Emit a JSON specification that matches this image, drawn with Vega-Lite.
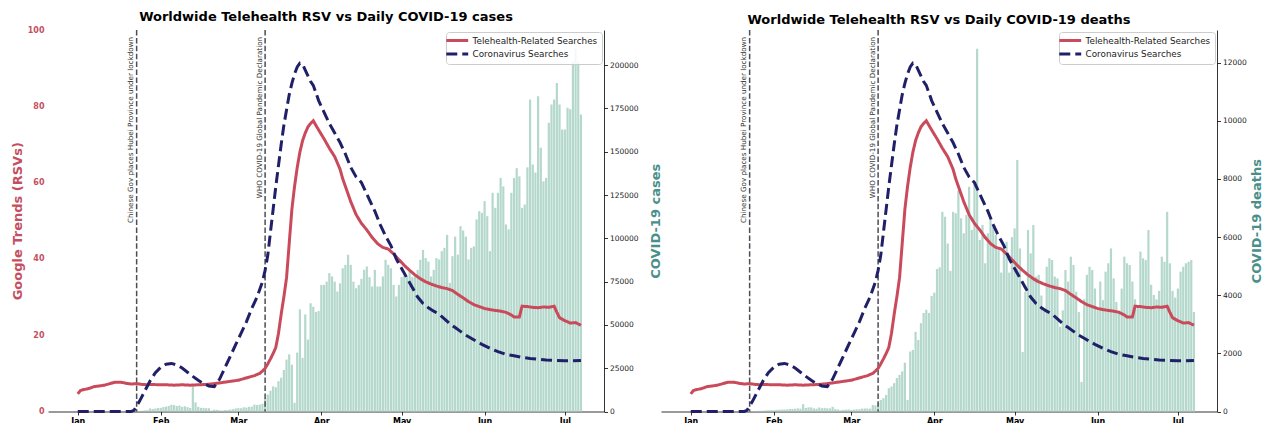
{
  "$schema": "https://vega.github.io/schema/vega-lite/v6.json",
  "padding": {"left": 11, "top": 11, "right": 0, "bottom": 0},
  "bounds": "flush",
  "spacing": 57,
  "config": {
    "font": "DejaVu Sans",
    "view": {"stroke": null},
    "axis": {"grid": false, "labelFont": "DejaVu Sans", "titleFont": "DejaVu Sans"},
    "title": {"font": "DejaVu Sans"}
  },
  "resolve": {
    "scale": {"color": "independent", "strokeDash": "independent"},
    "legend": {"color": "independent", "strokeDash": "independent"}
  },
  "datasets": {
    "daily": [
      {"date":"2020-01-01","cases":0,"deaths":0},{"date":"2020-01-02","cases":0,"deaths":0},{"date":"2020-01-03","cases":0,"deaths":0},{"date":"2020-01-04","cases":0,"deaths":0},{"date":"2020-01-05","cases":0,"deaths":0},{"date":"2020-01-06","cases":0,"deaths":0},{"date":"2020-01-07","cases":0,"deaths":0},{"date":"2020-01-08","cases":0,"deaths":0},{"date":"2020-01-09","cases":0,"deaths":0},{"date":"2020-01-10","cases":0,"deaths":0},
      {"date":"2020-01-11","cases":0,"deaths":1},{"date":"2020-01-12","cases":0,"deaths":0},{"date":"2020-01-13","cases":1,"deaths":0},{"date":"2020-01-14","cases":0,"deaths":0},{"date":"2020-01-15","cases":0,"deaths":0},{"date":"2020-01-16","cases":4,"deaths":0},{"date":"2020-01-17","cases":4,"deaths":1},{"date":"2020-01-18","cases":17,"deaths":0},{"date":"2020-01-19","cases":136,"deaths":1},{"date":"2020-01-20","cases":19,"deaths":0},
      {"date":"2020-01-21","cases":151,"deaths":3},{"date":"2020-01-22","cases":140,"deaths":11},{"date":"2020-01-23","cases":97,"deaths":8},{"date":"2020-01-24","cases":266,"deaths":16},{"date":"2020-01-25","cases":453,"deaths":15},{"date":"2020-01-26","cases":673,"deaths":24},{"date":"2020-01-27","cases":797,"deaths":26},{"date":"2020-01-28","cases":1767,"deaths":26},{"date":"2020-01-29","cases":1481,"deaths":38},{"date":"2020-01-30","cases":1757,"deaths":43},{"date":"2020-01-31","cases":1986,"deaths":46},
      {"date":"2020-02-01","cases":2099,"deaths":45},{"date":"2020-02-02","cases":2604,"deaths":57},{"date":"2020-02-03","cases":2834,"deaths":64},{"date":"2020-02-04","cases":3239,"deaths":66},{"date":"2020-02-05","cases":3892,"deaths":73},{"date":"2020-02-06","cases":3697,"deaths":73},{"date":"2020-02-07","cases":3163,"deaths":86},{"date":"2020-02-08","cases":3429,"deaths":89},{"date":"2020-02-09","cases":2676,"deaths":97},{"date":"2020-02-10","cases":3001,"deaths":108},
      {"date":"2020-02-11","cases":2546,"deaths":97},{"date":"2020-02-12","cases":2033,"deaths":254},{"date":"2020-02-13","cases":14840,"deaths":121},{"date":"2020-02-14","cases":5264,"deaths":143},{"date":"2020-02-15","cases":2653,"deaths":142},{"date":"2020-02-16","cases":2125,"deaths":106},{"date":"2020-02-17","cases":2095,"deaths":98},{"date":"2020-02-18","cases":1916,"deaths":139},{"date":"2020-02-19","cases":1876,"deaths":115},{"date":"2020-02-20","cases":544,"deaths":125},
      {"date":"2020-02-21","cases":1066,"deaths":111},{"date":"2020-02-22","cases":1009,"deaths":107},{"date":"2020-02-23","cases":715,"deaths":161},{"date":"2020-02-24","cases":565,"deaths":84},{"date":"2020-02-25","cases":842,"deaths":72},{"date":"2020-02-26","cases":886,"deaths":44},{"date":"2020-02-27","cases":1140,"deaths":58},{"date":"2020-02-28","cases":1363,"deaths":64},{"date":"2020-02-29","cases":1778,"deaths":70},
      {"date":"2020-03-01","cases":1946,"deaths":55},{"date":"2020-03-02","cases":1897,"deaths":68},{"date":"2020-03-03","cases":2443,"deaths":73},{"date":"2020-03-04","cases":2257,"deaths":79},{"date":"2020-03-05","cases":2690,"deaths":98},{"date":"2020-03-06","cases":2816,"deaths":106},{"date":"2020-03-07","cases":3989,"deaths":104},{"date":"2020-03-08","cases":3700,"deaths":99},{"date":"2020-03-09","cases":4020,"deaths":228},{"date":"2020-03-10","cases":4468,"deaths":210},
      {"date":"2020-03-11","cases":7500,"deaths":290},{"date":"2020-03-12","cases":9800,"deaths":400},{"date":"2020-03-13","cases":12000,"deaths":460},{"date":"2020-03-14","cases":14500,"deaths":570},{"date":"2020-03-15","cases":14000,"deaths":800},{"date":"2020-03-16","cases":17500,"deaths":860},{"date":"2020-03-17","cases":19500,"deaths":975},{"date":"2020-03-18","cases":24000,"deaths":1150},{"date":"2020-03-19","cases":30000,"deaths":1260},{"date":"2020-03-20","cases":33000,"deaths":1380},
      {"date":"2020-03-21","cases":27000,"deaths":1680},{"date":"2020-03-22","cases":5000,"deaths":400},{"date":"2020-03-23","cases":34000,"deaths":2065},{"date":"2020-03-24","cases":59000,"deaths":2120},{"date":"2020-03-25","cases":31000,"deaths":2740},{"date":"2020-03-26","cases":56000,"deaths":2460},{"date":"2020-03-27","cases":41500,"deaths":3040},{"date":"2020-03-28","cases":62500,"deaths":3390},{"date":"2020-03-29","cases":60500,"deaths":3500},{"date":"2020-03-30","cases":57500,"deaths":3390},{"date":"2020-03-31","cases":58000,"deaths":3970},
      {"date":"2020-04-01","cases":73100,"deaths":4090},{"date":"2020-04-02","cases":73100,"deaths":4900},{"date":"2020-04-03","cases":75000,"deaths":4960},{"date":"2020-04-04","cases":79900,"deaths":6870},{"date":"2020-04-05","cases":78000,"deaths":6700},{"date":"2020-04-06","cases":75000,"deaths":5780},{"date":"2020-04-07","cases":69300,"deaths":4840},{"date":"2020-04-08","cases":74000,"deaths":6870},{"date":"2020-04-09","cases":82700,"deaths":6820},{"date":"2020-04-10","cases":84700,"deaths":7600},
      {"date":"2020-04-11","cases":90500,"deaths":6645},{"date":"2020-04-12","cases":84700,"deaths":6130},{"date":"2020-04-13","cases":75000,"deaths":6760},{"date":"2020-04-14","cases":71200,"deaths":7730},{"date":"2020-04-15","cases":73100,"deaths":6245},{"date":"2020-04-16","cases":76600,"deaths":7840},{"date":"2020-04-17","cases":81800,"deaths":12480},{"date":"2020-04-18","cases":83700,"deaths":5900},{"date":"2020-04-19","cases":77600,"deaths":6420},{"date":"2020-04-20","cases":72200,"deaths":5100},
      {"date":"2020-04-21","cases":81800,"deaths":6130},{"date":"2020-04-22","cases":72200,"deaths":6590},{"date":"2020-04-23","cases":72200,"deaths":6360},{"date":"2020-04-24","cases":78000,"deaths":6070},{"date":"2020-04-25","cases":87600,"deaths":5550},{"date":"2020-04-26","cases":84700,"deaths":4780},{"date":"2020-04-27","cases":82700,"deaths":5670},{"date":"2020-04-28","cases":73100,"deaths":5840},{"date":"2020-04-29","cases":66400,"deaths":4780},{"date":"2020-04-30","cases":73100,"deaths":6000},
      {"date":"2020-05-01","cases":77600,"deaths":6300},{"date":"2020-05-02","cases":78500,"deaths":8650},{"date":"2020-05-03","cases":78000,"deaths":5610},{"date":"2020-05-04","cases":81800,"deaths":2050},{"date":"2020-05-05","cases":77600,"deaths":4120},{"date":"2020-05-06","cases":78500,"deaths":6240},{"date":"2020-05-07","cases":81800,"deaths":5440},{"date":"2020-05-08","cases":87600,"deaths":6415},{"date":"2020-05-09","cases":93300,"deaths":4640},{"date":"2020-05-10","cases":88600,"deaths":4700},
      {"date":"2020-05-11","cases":86600,"deaths":3990},{"date":"2020-05-12","cases":78000,"deaths":3480},{"date":"2020-05-13","cases":81800,"deaths":4980},{"date":"2020-05-14","cases":88600,"deaths":5270},{"date":"2020-05-15","cases":87800,"deaths":5210},{"date":"2020-05-16","cases":92600,"deaths":4640},{"date":"2020-05-17","cases":94500,"deaths":4580},{"date":"2020-05-18","cases":102000,"deaths":2915},{"date":"2020-05-19","cases":74300,"deaths":3480},{"date":"2020-05-20","cases":89700,"deaths":4870},
      {"date":"2020-05-21","cases":101000,"deaths":4470},{"date":"2020-05-22","cases":90600,"deaths":5325},{"date":"2020-05-23","cases":107000,"deaths":5040},{"date":"2020-05-24","cases":104500,"deaths":4120},{"date":"2020-05-25","cases":101000,"deaths":3420},{"date":"2020-05-26","cases":87800,"deaths":1020},{"date":"2020-05-27","cases":94500,"deaths":3860},{"date":"2020-05-28","cases":95400,"deaths":4700},{"date":"2020-05-29","cases":110900,"deaths":4980},{"date":"2020-05-30","cases":115700,"deaths":4870},{"date":"2020-05-31","cases":114700,"deaths":4230},
      {"date":"2020-06-01","cases":121500,"deaths":3480},{"date":"2020-06-02","cases":112800,"deaths":4470},{"date":"2020-06-03","cases":92600,"deaths":3830},{"date":"2020-06-04","cases":126300,"deaths":4810},{"date":"2020-06-05","cases":117600,"deaths":5100},{"date":"2020-06-06","cases":126300,"deaths":5610},{"date":"2020-06-07","cases":134900,"deaths":4580},{"date":"2020-06-08","cases":130000,"deaths":3770},{"date":"2020-06-09","cases":108000,"deaths":3480},{"date":"2020-06-10","cases":105200,"deaths":4230},
      {"date":"2020-06-11","cases":126300,"deaths":5325},{"date":"2020-06-12","cases":134900,"deaths":5100},{"date":"2020-06-13","cases":140500,"deaths":5040},{"date":"2020-06-14","cases":135800,"deaths":4470},{"date":"2020-06-15","cases":117600,"deaths":3860},{"date":"2020-06-16","cases":119500,"deaths":3600},{"date":"2020-06-17","cases":141000,"deaths":5500},{"date":"2020-06-18","cases":180100,"deaths":5270},{"date":"2020-06-19","cases":142600,"deaths":5210},{"date":"2020-06-20","cases":138000,"deaths":6240},
      {"date":"2020-06-21","cases":182000,"deaths":4360},{"date":"2020-06-22","cases":152300,"deaths":4010},{"date":"2020-06-23","cases":132900,"deaths":3860},{"date":"2020-06-24","cases":134900,"deaths":4150},{"date":"2020-06-25","cases":166700,"deaths":5325},{"date":"2020-06-26","cases":177300,"deaths":5150},{"date":"2020-06-27","cases":180100,"deaths":6870},{"date":"2020-06-28","cases":189700,"deaths":5100},{"date":"2020-06-29","cases":177300,"deaths":4150},{"date":"2020-06-30","cases":162800,"deaths":3920},
      {"date":"2020-07-01","cases":162800,"deaths":4230},{"date":"2020-07-02","cases":175400,"deaths":4810},{"date":"2020-07-03","cases":174500,"deaths":4980},{"date":"2020-07-04","cases":202300,"deaths":5100},{"date":"2020-07-05","cases":209800,"deaths":5150},{"date":"2020-07-06","cases":202000,"deaths":5210},{"date":"2020-07-07","cases":171500,"deaths":3420}
    ],
    "trends": [
      {"date":"2020-01-01","series":"Telehealth-Related Searches","value":4.6},{"date":"2020-01-02","series":"Telehealth-Related Searches","value":5.5},{"date":"2020-01-03","series":"Telehealth-Related Searches","value":5.7},{"date":"2020-01-05","series":"Telehealth-Related Searches","value":6.0},{"date":"2020-01-07","series":"Telehealth-Related Searches","value":6.5},{"date":"2020-01-09","series":"Telehealth-Related Searches","value":6.7},{"date":"2020-01-11","series":"Telehealth-Related Searches","value":6.9},{"date":"2020-01-13","series":"Telehealth-Related Searches","value":7.3},{"date":"2020-01-15","series":"Telehealth-Related Searches","value":7.7},{"date":"2020-01-17","series":"Telehealth-Related Searches","value":7.7},{"date":"2020-01-19","series":"Telehealth-Related Searches","value":7.4},{"date":"2020-01-21","series":"Telehealth-Related Searches","value":7.2},{"date":"2020-01-23","series":"Telehealth-Related Searches","value":7.3},{"date":"2020-01-25","series":"Telehealth-Related Searches","value":7.1},{"date":"2020-01-27","series":"Telehealth-Related Searches","value":7.0},{"date":"2020-01-29","series":"Telehealth-Related Searches","value":7.1},{"date":"2020-01-31","series":"Telehealth-Related Searches","value":7.0},
      {"date":"2020-02-03","series":"Telehealth-Related Searches","value":7.0},{"date":"2020-02-06","series":"Telehealth-Related Searches","value":6.9},{"date":"2020-02-09","series":"Telehealth-Related Searches","value":7.0},{"date":"2020-02-12","series":"Telehealth-Related Searches","value":6.9},{"date":"2020-02-15","series":"Telehealth-Related Searches","value":7.0},{"date":"2020-02-18","series":"Telehealth-Related Searches","value":7.1},{"date":"2020-02-21","series":"Telehealth-Related Searches","value":7.3},{"date":"2020-02-24","series":"Telehealth-Related Searches","value":7.6},{"date":"2020-02-27","series":"Telehealth-Related Searches","value":7.9},
      {"date":"2020-03-01","series":"Telehealth-Related Searches","value":8.2},{"date":"2020-03-03","series":"Telehealth-Related Searches","value":8.6},{"date":"2020-03-05","series":"Telehealth-Related Searches","value":9.0},{"date":"2020-03-07","series":"Telehealth-Related Searches","value":9.4},{"date":"2020-03-09","series":"Telehealth-Related Searches","value":10.0},{"date":"2020-03-10","series":"Telehealth-Related Searches","value":10.6},{"date":"2020-03-11","series":"Telehealth-Related Searches","value":11.3},{"date":"2020-03-12","series":"Telehealth-Related Searches","value":12.5},{"date":"2020-03-13","series":"Telehealth-Related Searches","value":13.8},{"date":"2020-03-14","series":"Telehealth-Related Searches","value":15.2},{"date":"2020-03-15","series":"Telehealth-Related Searches","value":16.8},{"date":"2020-03-16","series":"Telehealth-Related Searches","value":20.5},{"date":"2020-03-17","series":"Telehealth-Related Searches","value":25.5},{"date":"2020-03-18","series":"Telehealth-Related Searches","value":30},{"date":"2020-03-19","series":"Telehealth-Related Searches","value":35},{"date":"2020-03-20","series":"Telehealth-Related Searches","value":44},{"date":"2020-03-21","series":"Telehealth-Related Searches","value":53},{"date":"2020-03-22","series":"Telehealth-Related Searches","value":59},{"date":"2020-03-23","series":"Telehealth-Related Searches","value":64},{"date":"2020-03-24","series":"Telehealth-Related Searches","value":68},{"date":"2020-03-25","series":"Telehealth-Related Searches","value":71},{"date":"2020-03-26","series":"Telehealth-Related Searches","value":73},{"date":"2020-03-27","series":"Telehealth-Related Searches","value":74.6},{"date":"2020-03-28","series":"Telehealth-Related Searches","value":75.5},{"date":"2020-03-29","series":"Telehealth-Related Searches","value":76.2},{"date":"2020-03-30","series":"Telehealth-Related Searches","value":75.0},{"date":"2020-03-31","series":"Telehealth-Related Searches","value":73.8},
      {"date":"2020-04-02","series":"Telehealth-Related Searches","value":71.5},{"date":"2020-04-04","series":"Telehealth-Related Searches","value":69.0},{"date":"2020-04-06","series":"Telehealth-Related Searches","value":66.8},{"date":"2020-04-08","series":"Telehealth-Related Searches","value":63.5},{"date":"2020-04-09","series":"Telehealth-Related Searches","value":61.0},{"date":"2020-04-10","series":"Telehealth-Related Searches","value":59.0},{"date":"2020-04-12","series":"Telehealth-Related Searches","value":55.0},{"date":"2020-04-14","series":"Telehealth-Related Searches","value":51.6},{"date":"2020-04-16","series":"Telehealth-Related Searches","value":49.3},{"date":"2020-04-18","series":"Telehealth-Related Searches","value":47.6},{"date":"2020-04-20","series":"Telehealth-Related Searches","value":45.6},{"date":"2020-04-22","series":"Telehealth-Related Searches","value":44.0},{"date":"2020-04-24","series":"Telehealth-Related Searches","value":43.0},{"date":"2020-04-26","series":"Telehealth-Related Searches","value":42.6},{"date":"2020-04-28","series":"Telehealth-Related Searches","value":41.3},{"date":"2020-04-30","series":"Telehealth-Related Searches","value":39.8},
      {"date":"2020-05-02","series":"Telehealth-Related Searches","value":38.3},{"date":"2020-05-04","series":"Telehealth-Related Searches","value":37.0},{"date":"2020-05-06","series":"Telehealth-Related Searches","value":35.8},{"date":"2020-05-08","series":"Telehealth-Related Searches","value":34.8},{"date":"2020-05-10","series":"Telehealth-Related Searches","value":34.0},{"date":"2020-05-12","series":"Telehealth-Related Searches","value":33.4},{"date":"2020-05-14","series":"Telehealth-Related Searches","value":32.9},{"date":"2020-05-16","series":"Telehealth-Related Searches","value":32.5},{"date":"2020-05-18","series":"Telehealth-Related Searches","value":32.2},{"date":"2020-05-20","series":"Telehealth-Related Searches","value":31.7},{"date":"2020-05-22","series":"Telehealth-Related Searches","value":30.7},{"date":"2020-05-24","series":"Telehealth-Related Searches","value":29.8},{"date":"2020-05-26","series":"Telehealth-Related Searches","value":28.8},{"date":"2020-05-28","series":"Telehealth-Related Searches","value":28.0},{"date":"2020-05-30","series":"Telehealth-Related Searches","value":27.5},
      {"date":"2020-06-01","series":"Telehealth-Related Searches","value":27.0},{"date":"2020-06-03","series":"Telehealth-Related Searches","value":26.7},{"date":"2020-06-05","series":"Telehealth-Related Searches","value":26.5},{"date":"2020-06-07","series":"Telehealth-Related Searches","value":26.3},{"date":"2020-06-09","series":"Telehealth-Related Searches","value":26.0},{"date":"2020-06-11","series":"Telehealth-Related Searches","value":25.3},{"date":"2020-06-12","series":"Telehealth-Related Searches","value":24.8},{"date":"2020-06-14","series":"Telehealth-Related Searches","value":24.8},{"date":"2020-06-15","series":"Telehealth-Related Searches","value":27.6},{"date":"2020-06-17","series":"Telehealth-Related Searches","value":27.5},{"date":"2020-06-19","series":"Telehealth-Related Searches","value":27.3},{"date":"2020-06-21","series":"Telehealth-Related Searches","value":27.2},{"date":"2020-06-23","series":"Telehealth-Related Searches","value":27.4},{"date":"2020-06-25","series":"Telehealth-Related Searches","value":27.3},{"date":"2020-06-27","series":"Telehealth-Related Searches","value":27.6},{"date":"2020-06-28","series":"Telehealth-Related Searches","value":26.0},{"date":"2020-06-29","series":"Telehealth-Related Searches","value":24.6},
      {"date":"2020-07-01","series":"Telehealth-Related Searches","value":23.8},{"date":"2020-07-03","series":"Telehealth-Related Searches","value":23.2},{"date":"2020-07-05","series":"Telehealth-Related Searches","value":23.3},{"date":"2020-07-07","series":"Telehealth-Related Searches","value":22.6},
      {"date":"2020-01-01","series":"Coronavirus Searches","value":0},{"date":"2020-01-21","series":"Coronavirus Searches","value":0},{"date":"2020-01-22","series":"Coronavirus Searches","value":0.3},{"date":"2020-01-24","series":"Coronavirus Searches","value":2.6},{"date":"2020-01-26","series":"Coronavirus Searches","value":5.3},{"date":"2020-01-28","series":"Coronavirus Searches","value":8.0},{"date":"2020-01-30","series":"Coronavirus Searches","value":10.2},
      {"date":"2020-02-01","series":"Coronavirus Searches","value":11.6},{"date":"2020-02-03","series":"Coronavirus Searches","value":12.4},{"date":"2020-02-05","series":"Coronavirus Searches","value":12.6},{"date":"2020-02-07","series":"Coronavirus Searches","value":12.2},{"date":"2020-02-09","series":"Coronavirus Searches","value":11.4},{"date":"2020-02-11","series":"Coronavirus Searches","value":10.3},{"date":"2020-02-13","series":"Coronavirus Searches","value":9.2},{"date":"2020-02-15","series":"Coronavirus Searches","value":8.2},{"date":"2020-02-17","series":"Coronavirus Searches","value":7.3},{"date":"2020-02-19","series":"Coronavirus Searches","value":6.7},{"date":"2020-02-21","series":"Coronavirus Searches","value":6.5},{"date":"2020-02-23","series":"Coronavirus Searches","value":8.5},{"date":"2020-02-25","series":"Coronavirus Searches","value":11.5},{"date":"2020-02-27","series":"Coronavirus Searches","value":14.5},{"date":"2020-02-29","series":"Coronavirus Searches","value":17.5},
      {"date":"2020-03-02","series":"Coronavirus Searches","value":20.5},{"date":"2020-03-04","series":"Coronavirus Searches","value":23.5},{"date":"2020-03-06","series":"Coronavirus Searches","value":27},{"date":"2020-03-08","series":"Coronavirus Searches","value":30},{"date":"2020-03-10","series":"Coronavirus Searches","value":34},{"date":"2020-03-11","series":"Coronavirus Searches","value":37},{"date":"2020-03-12","series":"Coronavirus Searches","value":41},{"date":"2020-03-13","series":"Coronavirus Searches","value":47},{"date":"2020-03-14","series":"Coronavirus Searches","value":53},{"date":"2020-03-15","series":"Coronavirus Searches","value":59},{"date":"2020-03-16","series":"Coronavirus Searches","value":64.5},{"date":"2020-03-17","series":"Coronavirus Searches","value":70},{"date":"2020-03-18","series":"Coronavirus Searches","value":75},{"date":"2020-03-19","series":"Coronavirus Searches","value":79},{"date":"2020-03-20","series":"Coronavirus Searches","value":83},{"date":"2020-03-21","series":"Coronavirus Searches","value":86},{"date":"2020-03-22","series":"Coronavirus Searches","value":88.5},{"date":"2020-03-23","series":"Coronavirus Searches","value":90.3},{"date":"2020-03-24","series":"Coronavirus Searches","value":91.3},{"date":"2020-03-25","series":"Coronavirus Searches","value":91},{"date":"2020-03-26","series":"Coronavirus Searches","value":89.5},{"date":"2020-03-27","series":"Coronavirus Searches","value":88},{"date":"2020-03-28","series":"Coronavirus Searches","value":86.5},{"date":"2020-03-29","series":"Coronavirus Searches","value":85.5},{"date":"2020-03-31","series":"Coronavirus Searches","value":81.5},
      {"date":"2020-04-02","series":"Coronavirus Searches","value":78.5},{"date":"2020-04-04","series":"Coronavirus Searches","value":75.5},{"date":"2020-04-06","series":"Coronavirus Searches","value":73},{"date":"2020-04-08","series":"Coronavirus Searches","value":70.5},{"date":"2020-04-10","series":"Coronavirus Searches","value":67.5},{"date":"2020-04-12","series":"Coronavirus Searches","value":64},{"date":"2020-04-14","series":"Coronavirus Searches","value":61.5},{"date":"2020-04-16","series":"Coronavirus Searches","value":60},{"date":"2020-04-17","series":"Coronavirus Searches","value":58.5},{"date":"2020-04-19","series":"Coronavirus Searches","value":55.5},{"date":"2020-04-21","series":"Coronavirus Searches","value":52.5},{"date":"2020-04-23","series":"Coronavirus Searches","value":49},{"date":"2020-04-25","series":"Coronavirus Searches","value":46},{"date":"2020-04-27","series":"Coronavirus Searches","value":43.5},{"date":"2020-04-29","series":"Coronavirus Searches","value":40},
      {"date":"2020-05-01","series":"Coronavirus Searches","value":37.5},{"date":"2020-05-03","series":"Coronavirus Searches","value":35},{"date":"2020-05-05","series":"Coronavirus Searches","value":32.5},{"date":"2020-05-07","series":"Coronavirus Searches","value":30},{"date":"2020-05-09","series":"Coronavirus Searches","value":28.3},{"date":"2020-05-11","series":"Coronavirus Searches","value":27.2},{"date":"2020-05-13","series":"Coronavirus Searches","value":26.3},{"date":"2020-05-15","series":"Coronavirus Searches","value":25.5},{"date":"2020-05-17","series":"Coronavirus Searches","value":24.3},{"date":"2020-05-19","series":"Coronavirus Searches","value":23.0},{"date":"2020-05-21","series":"Coronavirus Searches","value":22.0},{"date":"2020-05-23","series":"Coronavirus Searches","value":21.0},{"date":"2020-05-25","series":"Coronavirus Searches","value":20.0},{"date":"2020-05-27","series":"Coronavirus Searches","value":19.2},{"date":"2020-05-29","series":"Coronavirus Searches","value":18.4},{"date":"2020-05-31","series":"Coronavirus Searches","value":17.6},
      {"date":"2020-06-03","series":"Coronavirus Searches","value":16.6},{"date":"2020-06-06","series":"Coronavirus Searches","value":15.7},{"date":"2020-06-09","series":"Coronavirus Searches","value":15.0},{"date":"2020-06-12","series":"Coronavirus Searches","value":14.6},{"date":"2020-06-15","series":"Coronavirus Searches","value":14.2},{"date":"2020-06-18","series":"Coronavirus Searches","value":13.9},{"date":"2020-06-21","series":"Coronavirus Searches","value":13.7},{"date":"2020-06-24","series":"Coronavirus Searches","value":13.5},{"date":"2020-06-27","series":"Coronavirus Searches","value":13.4},{"date":"2020-07-01","series":"Coronavirus Searches","value":13.3},{"date":"2020-07-04","series":"Coronavirus Searches","value":13.3},{"date":"2020-07-07","series":"Coronavirus Searches","value":13.4}
    ],
    "events": [
      {"date":"2020-01-23","label":"Chinese Gov places Hubei Province under lockdown"},
      {"date":"2020-03-11","label":"WHO COVID-19 Global Pandemic Declaration"}
    ]
  },
  "hconcat": [
    {
      "width": 556,
      "height": 381.5,
      "title": {"text": "Worldwide Telehealth RSV vs Daily COVID-19 cases", "fontSize": 13, "fontWeight": "bold", "color": "#000000", "anchor": "middle", "offset": 2},
      "resolve": {"scale": {"y": "independent"}},
      "layer": [
        {
          "data": {"name": "daily"},
          "mark": {"type": "bar", "width": 2.2, "color": "#b4d8cc"},
          "encoding": {
            "x": {"field": "date", "type": "temporal",
              "scale": {"type": "utc", "domain": [{"year": 2019, "month": 12, "date": 22, "hours": 18, "utc": true}, {"year": 2020, "month": 7, "date": 13, "hours": 18, "utc": true}]},
              "axis": {"title": null, "format": "%b", "tickCount": {"interval": "month", "step": 1},
                "labelFontWeight": "bold", "labelFontSize": 8, "labelColor": "#000000", "tickSize": 3.5, "tickColor": "#000000", "tickWidth": 0.8, "domainColor": "#000000", "domainWidth": 0.8, "labelPadding": 2, "labelFlush": false}},
            "y": {"field": "cases", "type": "quantitative",
              "scale": {"domain": [0, 220300], "nice": false},
              "axis": {"orient": "right", "title": "COVID-19 cases", "values": [0, 25000, 50000, 75000, 100000, 125000, 150000, 175000, 200000], "format": "d",
                "labelFontSize": 7.5, "labelColor": "#222222", "tickSize": 3.5, "tickColor": "#000000", "tickWidth": 0.8, "domainColor": "#000000", "domainWidth": 0.8, "labelPadding": 2,
                "titleFontSize": 13, "titleFontWeight": "bold", "titleColor": "#4a8f8a", "titleAngle": 270, "titleBaseline": "top", "titlePadding": 11}}
          }
        },
        {
          "data": {"name": "events"},
          "mark": {"type": "rule", "strokeDash": [5.5, 2.4], "color": "#4d4d55", "strokeWidth": 1.5},
          "encoding": {"x": {"field": "date", "type": "temporal"}}
        },
        {
          "data": {"name": "events"},
          "mark": {"type": "text", "angle": 270, "align": "right", "baseline": "bottom", "dy": -1.5, "fontSize": 7.2, "color": "#333333"},
          "encoding": {"x": {"field": "date", "type": "temporal"}, "y": {"datum": 98.2, "type": "quantitative", "scale": {"domain": [0, 100], "nice": false}, "axis": null}, "text": {"field": "label"}}
        },
        {
          "data": {"name": "trends"},
          "mark": {"type": "line", "strokeWidth": 3, "strokeCap": "butt"},
          "encoding": {
            "x": {"field": "date", "type": "temporal"},
            "y": {"field": "value", "type": "quantitative", "scale": {"domain": [0, 100], "nice": false},
              "axis": {"orient": "left", "title": "Google Trends (RSVs)", "values": [0, 20, 40, 60, 80, 100], "ticks": false, "domain": false,
                "labelColor": "#c4505f", "labelFontWeight": "bold", "labelFontSize": 8, "labelPadding": 4,
                "titleColor": "#c4505f", "titleFontSize": 13, "titleFontWeight": "bold", "titlePadding": 3}},
            "color": {"field": "series", "type": "nominal",
              "scale": {"domain": ["Telehealth-Related Searches", "Coronavirus Searches"], "range": ["#c94b5b", "#1f2068"]},
              "legend": {"title": null, "orient": "top-right", "offset": 2, "padding": 4, "fillColor": "rgba(255,255,255,0.85)", "strokeColor": "#cccccc", "cornerRadius": 3, "labelFontSize": 8.8, "labelColor": "#222222", "symbolType": "M-3,0H5", "symbolSize": 30, "symbolStrokeWidth": 3, "labelOffset": 13.6, "rowPadding": 0.5}},
            "strokeDash": {"field": "series", "type": "nominal",
              "scale": {"domain": ["Telehealth-Related Searches", "Coronavirus Searches"], "range": [[1, 0], [11, 5]]},
              "legend": {"title": null, "orient": "top-right", "offset": 2, "padding": 4, "fillColor": "rgba(255,255,255,0.85)", "strokeColor": "#cccccc", "cornerRadius": 3, "labelFontSize": 8.8, "labelColor": "#222222", "symbolType": "M-3,0H5", "symbolSize": 30, "symbolStrokeWidth": 3, "labelOffset": 13.6, "rowPadding": 0.5}}
          }
        }
      ]
    },
    {
      "width": 556,
      "height": 381.5,
      "title": {"text": "Worldwide Telehealth RSV vs Daily COVID-19 deaths", "fontSize": 13, "fontWeight": "bold", "color": "#000000", "anchor": "middle", "offset": 2},
      "resolve": {"scale": {"y": "independent"}},
      "layer": [
        {
          "data": {"name": "daily"},
          "mark": {"type": "bar", "width": 2.2, "color": "#b4d8cc"},
          "encoding": {
            "x": {"field": "date", "type": "temporal",
              "scale": {"type": "utc", "domain": [{"year": 2019, "month": 12, "date": 22, "hours": 18, "utc": true}, {"year": 2020, "month": 7, "date": 13, "hours": 18, "utc": true}]},
              "axis": {"title": null, "format": "%b", "tickCount": {"interval": "month", "step": 1},
                "labelFontWeight": "bold", "labelFontSize": 8, "labelColor": "#000000", "tickSize": 3.5, "tickColor": "#000000", "tickWidth": 0.8, "domainColor": "#000000", "domainWidth": 0.8, "labelPadding": 2, "labelFlush": false}},
            "y": {"field": "deaths", "type": "quantitative",
              "scale": {"domain": [0, 13124], "nice": false},
              "axis": {"orient": "right", "title": "COVID-19 deaths", "values": [0, 2000, 4000, 6000, 8000, 10000, 12000], "format": "d",
                "labelFontSize": 7.5, "labelColor": "#222222", "tickSize": 3.5, "tickColor": "#000000", "tickWidth": 0.8, "domainColor": "#000000", "domainWidth": 0.8, "labelPadding": 2,
                "titleFontSize": 13, "titleFontWeight": "bold", "titleColor": "#4a8f8a", "titleAngle": 270, "titleBaseline": "top", "titlePadding": 4}}
          }
        },
        {
          "data": {"name": "events"},
          "mark": {"type": "rule", "strokeDash": [5.5, 2.4], "color": "#4d4d55", "strokeWidth": 1.5},
          "encoding": {"x": {"field": "date", "type": "temporal"}}
        },
        {
          "data": {"name": "events"},
          "mark": {"type": "text", "angle": 270, "align": "right", "baseline": "bottom", "dy": -1.5, "fontSize": 7.2, "color": "#333333"},
          "encoding": {"x": {"field": "date", "type": "temporal"}, "y": {"datum": 98.2, "type": "quantitative", "scale": {"domain": [0, 100], "nice": false}, "axis": null}, "text": {"field": "label"}}
        },
        {
          "data": {"name": "trends"},
          "mark": {"type": "line", "strokeWidth": 3, "strokeCap": "butt"},
          "encoding": {
            "x": {"field": "date", "type": "temporal"},
            "y": {"field": "value", "type": "quantitative", "scale": {"domain": [0, 100], "nice": false}, "axis": null},
            "color": {"field": "series", "type": "nominal",
              "scale": {"domain": ["Telehealth-Related Searches", "Coronavirus Searches"], "range": ["#c94b5b", "#1f2068"]},
              "legend": {"title": null, "orient": "top-right", "offset": 2, "padding": 4, "fillColor": "rgba(255,255,255,0.85)", "strokeColor": "#cccccc", "cornerRadius": 3, "labelFontSize": 8.8, "labelColor": "#222222", "symbolType": "M-3,0H5", "symbolSize": 30, "symbolStrokeWidth": 3, "labelOffset": 13.6, "rowPadding": 0.5}},
            "strokeDash": {"field": "series", "type": "nominal",
              "scale": {"domain": ["Telehealth-Related Searches", "Coronavirus Searches"], "range": [[1, 0], [11, 5]]},
              "legend": {"title": null, "orient": "top-right", "offset": 2, "padding": 4, "fillColor": "rgba(255,255,255,0.85)", "strokeColor": "#cccccc", "cornerRadius": 3, "labelFontSize": 8.8, "labelColor": "#222222", "symbolType": "M-3,0H5", "symbolSize": 30, "symbolStrokeWidth": 3, "labelOffset": 13.6, "rowPadding": 0.5}}
          }
        }
      ]
    }
  ]
}
